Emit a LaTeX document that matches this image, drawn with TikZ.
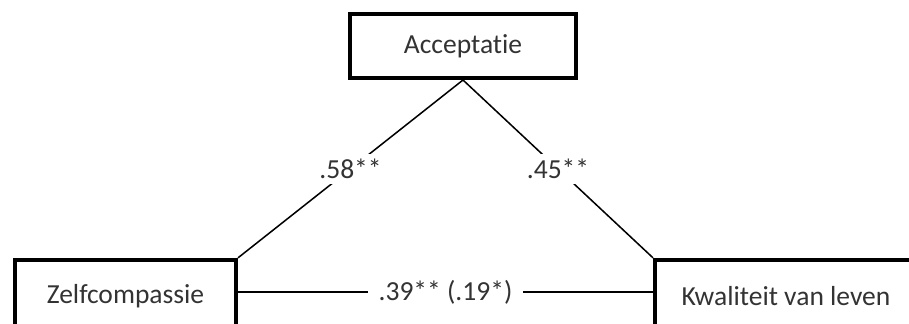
\documentclass[tikz,border=0pt]{standalone}
\usepackage{fontspec}
\setmainfont{Carlito}[Ligatures={NoCommon}]
\begin{document}
\begin{tikzpicture}[x=0.03cm,y=-0.03cm,
		var/.style={draw,line width=3.4pt,minimum height=1.92cm,inner sep=0pt,text=black!80,font=\fontsize{23.5}{28}\selectfont},
		coef/.style={fill=white,inner xsep=0.33cm,inner ysep=0.15cm,text=black!80,font=\fontsize{23.5}{28}\selectfont}]
			\clip (0,0) rectangle (909,323);
			
			\node[var,minimum width=6.78cm] (acc) at (463,46) {Acceptatie};
			\node[var,minimum width=6.63cm,minimum height=2.2cm] (zelf) at (125.5,296.5) {Zelfcompassie};
			\node[var,minimum width=7.86cm,minimum height=2.2cm] (kwal) at (786,296.5) {Kwaliteit van leven};
			
			\draw[line width=1.3pt] (zelf.north east) -- node[coef] {.58**} (acc.south);
			\draw[line width=1.3pt] (acc.south) -- node[coef] {.45**} (kwal.north west);
			\draw[line width=1.3pt] ([yshift=0.135cm]zelf.east) -- node[coef] {.39** (.19*)} ([yshift=0.135cm]kwal.west);
		\end{tikzpicture}
\end{document}
